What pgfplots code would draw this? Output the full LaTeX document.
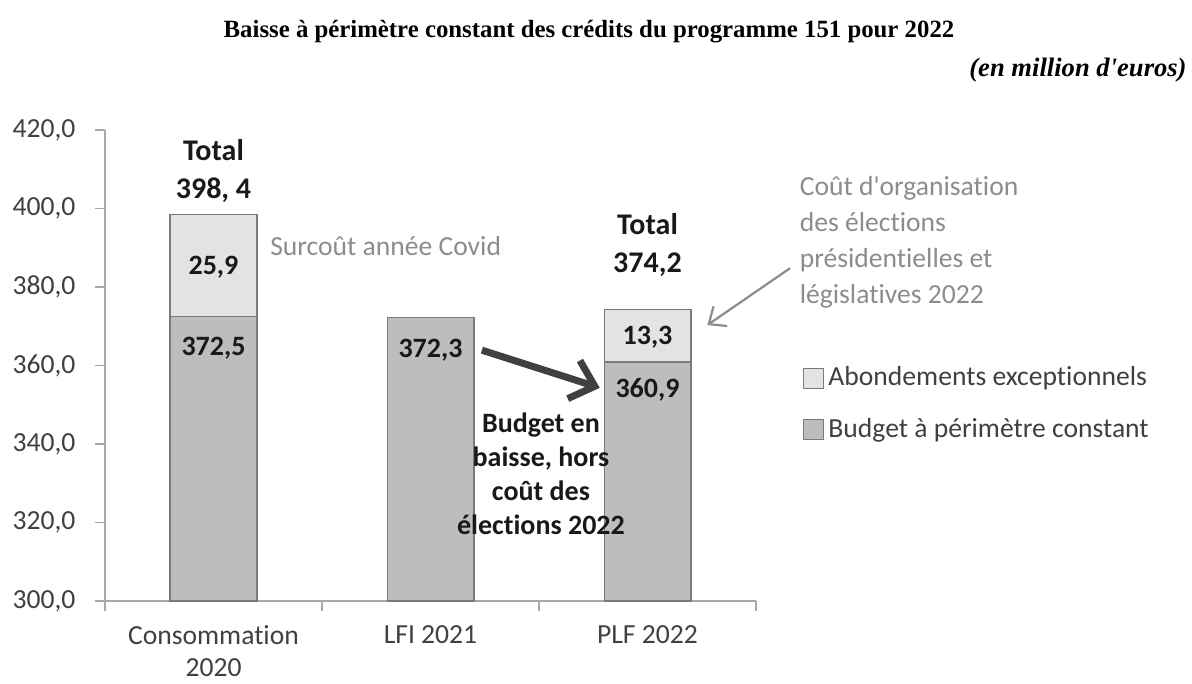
\documentclass[border=0pt]{standalone}
\usepackage{pgfplots}
\pgfplotsset{compat=1.18}
\usepackage{fontspec}
\setmainfont{Carlito}[Ligatures={NoCommon}]
\newfontfamily\titlefont{Liberation Serif}
\usetikzlibrary{arrows.meta}

\definecolor{basegray}{HTML}{BDBDBD}
\definecolor{lightfill}{HTML}{E3E3E3}
\definecolor{edgegray}{HTML}{7A7A7A}
\definecolor{axisgray}{HTML}{A8A8A8}
\definecolor{notegray}{HTML}{8C8C8C}
\definecolor{ticktxt}{HTML}{404040}
\definecolor{arrowdark}{HTML}{404040}

\begin{document}
\begin{tikzpicture}
  \fontsize{13.8}{16}\selectfont
  % 1 px of the reference = 0.5pt, axis origin at px (105,601)
  \path[use as bounding box] (-52.5pt,-41.5pt) rectangle (543.5pt,300.5pt);
  \begin{axis}[
    width=325.5pt, height=235.5pt, scale only axis,
    xmin=-0.5, xmax=2.5, ymin=300, ymax=420,
    ybar stacked, bar width=0.4,
    clip=false,
    axis x line=bottom, axis y line=left,
    axis line style={axisgray, line width=0.8pt, -},
    tick align=outside, major tick length=5pt,
    tick style={axisgray, line width=0.8pt},
    xtick={-0.5,0.5,1.5,2.5}, xticklabels={},
    extra x ticks={0,1,2},
    extra x tick labels={Consommation\\2020, LFI 2021, PLF 2022},
    extra x tick style={major tick length=0pt,
      xticklabel style={align=center, text=ticktxt,
        font=\fontsize{13.8}{16}\selectfont, yshift=-7.5pt}},
    ytick distance=20,
    yticklabel style={text=ticktxt, xshift=-5pt,
      /pgf/number format/.cd, fixed, fixed zerofill, precision=1,
      use comma, assume math mode=true},
    reverse legend,
    legend style={at={(axis description cs:1.072,0.507)}, anchor=north west,
      draw=none, fill=none, inner sep=0pt, row sep=10pt,
      text=ticktxt, font=\fontsize{13.8}{16}\selectfont,
      cells={anchor=west}},
  ]
  \addplot[fill=basegray, draw=edgegray, line width=0.6pt,
    legend image code/.code={\draw[fill=basegray, draw=edgegray, line width=0.6pt] (0pt,-5pt) rectangle (10pt,5pt);}]
    coordinates {(0,372.5) (1,372.3) (2,360.9)};
  \addplot[fill=lightfill, draw=edgegray, line width=0.6pt,
    legend image code/.code={\draw[fill=lightfill, draw=edgegray, line width=0.6pt] (0pt,-5pt) rectangle (10pt,5pt);}]
    coordinates {(0,25.9) (1,0) (2,13.3)};
  \legend{Budget à périmètre constant, Abondements exceptionnels}

  % anchor points for the labels, drawn after the bars
  \coordinate (t1) at (axis cs:0,409.6);
  \coordinate (t3) at (axis cs:2,390.6);
  \coordinate (v1) at (axis cs:0,385.0);
  \coordinate (v2) at (axis cs:0,364.5);
  \coordinate (v3) at (axis cs:1,363.9);
  \coordinate (v4) at (axis cs:2,367.3);
  \coordinate (v5) at (axis cs:2,353.8);
  \coordinate (covid) at (axis cs:0.26,390.4);
  \coordinate (elec) at (axis cs:2.70,408.2);
  \coordinate (ga1) at (axis cs:2.657,384.8);
  \coordinate (ga2) at (axis cs:2.276,370.3);
  \coordinate (da1) at (axis cs:1.237,363.9);
  \coordinate (da2) at (axis cs:1.78,354.3);
  \coordinate (bud) at (axis cs:1.509,332.4);
  \end{axis}

  % value labels
  \node[font=\bfseries\fontsize{15}{19}\selectfont, align=center, text=black!90] at (t1) {Total\\398, 4};
  \node[font=\bfseries\fontsize{15}{19}\selectfont, align=center, text=black!90] at (t3) {Total\\374,2};
  \node[font=\bfseries\fontsize{14}{16}\selectfont, text=black!90] at (v1) {25,9};
  \node[font=\bfseries\fontsize{14}{16}\selectfont, text=black!90] at (v2) {372,5};
  \node[font=\bfseries\fontsize{14}{16}\selectfont, text=black!90] at (v3) {372,3};
  \node[font=\bfseries\fontsize{14}{16}\selectfont, text=black!90] at (v4) {13,3};
  \node[font=\bfseries\fontsize{14}{16}\selectfont, text=black!90] at (v5) {360,9};

  % annotations
  \node[anchor=west, text=notegray, inner sep=0pt] at (covid) {Surcoût année Covid};
  \node[anchor=north west, align=left, text=notegray, inner sep=0pt,
    font=\fontsize{13.8}{18}\selectfont]
    at (elec) {Coût d\textquotesingle organisation\\des élections\\présidentielles et\\législatives 2022};
  \draw[notegray, line width=1.1pt, -{Straight Barb[length=7pt,width=12pt]}] (ga1) -- (ga2);
  \draw[arrowdark, line width=3.5pt, -{Straight Barb[length=11pt,width=20pt]}] (da1) -- (da2);
  \node[font=\bfseries\fontsize{14}{17}\selectfont, align=center, text=black!90]
    at (bud) {Budget en\\baisse, hors\\coût des\\élections 2022};

  % title and unit
  \node[font=\titlefont\bfseries\fontsize{12.4}{14}\selectfont] at (242pt,284.5pt)
    {Baisse à périmètre constant des crédits du programme 151 pour 2022};
  \node[font=\titlefont\bfseries\itshape\fontsize{13.3}{15}\selectfont, anchor=east, inner sep=0pt]
    at (541pt,265.5pt) {(en million d\textquotesingle euros)};
\end{tikzpicture}
\end{document}
